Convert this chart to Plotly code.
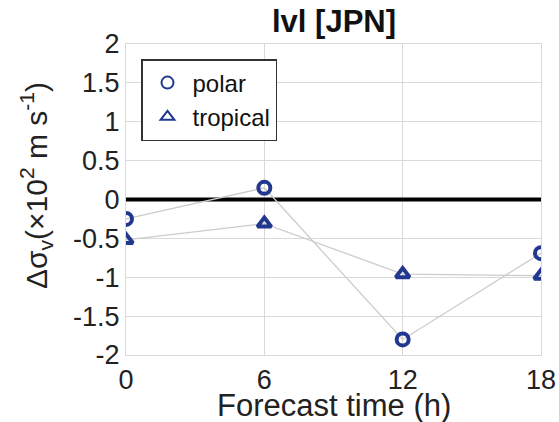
import plotly.graph_objects as go

forecast_hours = [0, 6, 12, 18]
polar = [-0.25, 0.15, -1.80, -0.69]
tropical = [-0.52, -0.31, -0.96, -0.98]
y_ticks = [-2, -1.5, -1, -0.5, 0, 0.5, 1, 1.5, 2]
y_ticklabels = ["-2", "-1.5", "-1", "-0.5", "0", "0.5", "1", "1.5", "2"]

marker_color = "#22388e"
line_color = "#cccccc"
FONT = "Liberation Sans, Arial, Helvetica, sans-serif"

L, R, T, B = 126, 18, 44, 67
W, H = 559, 422
pw, ph = W - L - R, H - T - B

fig = go.Figure()

# zero line
fig.add_trace(go.Scatter(
    x=[0, 18], y=[0, 0], mode="lines",
    line=dict(color="black", width=4), showlegend=False, hoverinfo="skip",
))

polar_marker = dict(symbol="circle-open", size=12, color=marker_color,
                    line=dict(width=4, color=marker_color))
trop_marker = dict(symbol="triangle-up-open", size=12, color=marker_color,
                   line=dict(width=4, color=marker_color))

fig.add_trace(go.Scatter(
    x=forecast_hours, y=polar, mode="lines+markers", name="polar",
    line=dict(color=line_color, width=1.3), marker=polar_marker, showlegend=False,
))
fig.add_trace(go.Scatter(
    x=forecast_hours, y=tropical, mode="lines+markers", name="tropical",
    line=dict(color=line_color, width=1.3), marker=trop_marker, showlegend=False,
))
# legend entries (markers only)
fig.add_trace(go.Scatter(x=[None], y=[None], mode="markers", name="polar",
                         marker=polar_marker))
fig.add_trace(go.Scatter(x=[None], y=[None], mode="markers", name="tropical",
                         marker=trop_marker))

fig.update_layout(
    width=W, height=H,
    margin=dict(l=L, r=R, t=T, b=B),
    paper_bgcolor="white", plot_bgcolor="white",
    font=dict(family=FONT, color="#222222"),
    title=dict(text="<b>lvl [JPN]</b>", x=334 / W, xanchor="center",
               y=1 - 21 / H, yanchor="middle",
               font=dict(size=31, family=FONT, color="#111111")),
    showlegend=True,
    legend=dict(x=(141 - L) / pw, y=1 - (59 - T) / ph, xanchor="left", yanchor="top",
                bordercolor="#333333", borderwidth=1.5, bgcolor="white",
                font=dict(size=24, family=FONT, color="#111111"),
                itemsizing="constant", tracegroupgap=0, itemwidth=40),
    annotations=[
        dict(text="Forecast time (h)", xref="paper", yref="paper",
             x=(334 - L) / pw, y=-(405 - (H - B)) / ph, xanchor="center", yanchor="middle",
             showarrow=False, font=dict(size=31, family=FONT, color="#222222")),
        dict(text="Δσ<sub>v</sub>(×10<sup>2</sup> m s<sup>-1</sup>)", xref="paper", yref="paper",
             x=-(L - 36) / pw, y=((H - B) - 186) / ph, xanchor="center", yanchor="middle",
             textangle=-90, showarrow=False,
             font=dict(size=30, family=FONT, color="#222222")),
    ],
)

fig.update_xaxes(
    range=[0, 18], tickvals=forecast_hours, ticktext=[str(h) for h in forecast_hours],
    showgrid=True, gridcolor="#d9d9d9", gridwidth=1.3,
    showline=True, linecolor="#d9d9d9", linewidth=1.3, mirror=True,
    zeroline=False, ticks="", automargin=False,
    tickfont=dict(size=27, family=FONT, color="#222222"),
)
fig.update_yaxes(
    range=[-2, 2], tickvals=y_ticks, ticktext=y_ticklabels,
    showgrid=True, gridcolor="#d9d9d9", gridwidth=1.3,
    showline=True, linecolor="#d9d9d9", linewidth=1.3, mirror=True,
    zeroline=False, ticks="", automargin=False,
    tickfont=dict(size=27, family=FONT, color="#222222"),
)

fig.write_html("out.html", config={"displayModeBar": False},
               post_script="document.body.style.margin='0';document.body.style.overflow='hidden';")
